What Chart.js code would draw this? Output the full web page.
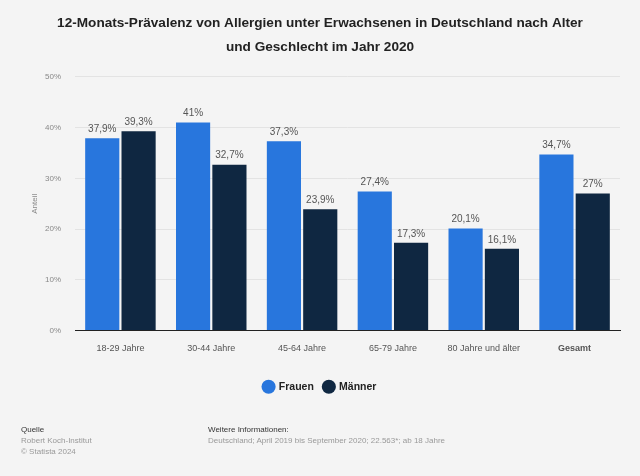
<!DOCTYPE html>
<html><head><meta charset="utf-8">
<script src="https://cdn.jsdelivr.net/npm/chart.js@4"></script>
<style>
html,body{margin:0;padding:0;background:#f4f4f4;width:640px;height:476px;overflow:hidden;font-family:"Liberation Sans",Arial,sans-serif;}
#wrap{position:absolute;left:0;top:0;width:640px;height:476px;}
.ft{position:absolute;font-size:8px;line-height:11px;color:#999;}
.ft b{font-weight:normal;color:#333;}
</style></head><body>
<div id="wrap"><canvas id="c" width="640" height="476"></canvas></div>
<div class="ft" style="left:21px;top:424px;"><b>Quelle</b><br>Robert Koch-Institut<br>© Statista 2024</div>
<div class="ft" style="left:208px;top:424px;"><b>Weitere Informationen:</b><br>Deutschland; April 2019 bis September 2020; 22.563*; ab 18 Jahre</div>
<script>
const categories = ["18-29 Jahre","30-44 Jahre","45-64 Jahre","65-79 Jahre","80 Jahre und älter","Gesamt"];
const frauen = [37.9, 41, 37.3, 27.4, 20.1, 34.7];
const maenner = [39.3, 32.7, 23.9, 17.3, 16.1, 27];
const yTicks = [0,10,20,30,40,50];
const seriesNames = ["Frauen","Männer"];

const fmt = v => String(v).replace('.', ',') + '%';

const valueLabels = {
  id:'valueLabels',
  afterDatasetsDraw(chart){
    const ctx = chart.ctx;
    ctx.save();
    ctx.font = '10px "Liberation Sans", Arial, sans-serif';
    ctx.fillStyle = '#555';
    ctx.textAlign = 'center';
    ctx.textBaseline = 'bottom';
    chart.data.datasets.forEach((ds,i)=>{
      const meta = chart.getDatasetMeta(i);
      meta.data.forEach((bar,j)=>{
        ctx.fillText(fmt(ds.data[j]), bar.x, bar.y - 4);
      });
    });
    ctx.restore();
  }
};

new Chart(document.getElementById('c'), {
  type:'bar',
  data:{
    labels:categories,
    datasets:[
      {label:seriesNames[0], data:frauen, backgroundColor:'#2876dd', borderWidth:0},
      {label:seriesNames[1], data:maenner, backgroundColor:'#0f2741', borderWidth:0}
    ]
  },
  options:{
    responsive:false,
    animation:false,
    devicePixelRatio:1,
    layout:{padding:{left:20,right:20,top:11,bottom:74}},
    datasets:{bar:{categoryPercentage:0.8, barPercentage:0.94}},
    plugins:{
      title:{display:true,
        text:["12-Monats-Prävalenz von Allergien unter Erwachsenen in Deutschland nach Alter","und Geschlecht im Jahr 2020"],
        font:{family:'"Liberation Sans", Arial, sans-serif', size:13.6, weight:'bold', lineHeight:1.8},
        color:'#222', padding:{top:0,bottom:17}},
      legend:{display:true, position:'bottom',
        labels:{usePointStyle:true, pointStyle:'circle', boxWidth:10, boxHeight:10, padding:10,
          font:{family:'"Liberation Sans", Arial, sans-serif', size:10.5, weight:'bold'}, color:'#222'}},
      tooltip:{enabled:false}
    },
    scales:{
      x:{
        grid:{display:false},
        border:{display:true,color:'#222',width:1},
        ticks:{color:'#555', padding:5,
          font:(c)=>({family:'"Liberation Sans", Arial, sans-serif', size:9, weight: c.index===5?'bold':'normal'})},
        afterFit(s){ s.height = 41; }
      },
      y:{
        min:0,max:50,
        afterBuildTicks(s){ s.ticks = yTicks.map(v=>({value:v})); },
        grid:{color:'#e3e3e3', drawTicks:false},
        border:{display:false},
        ticks:{color:'#888', padding:14, font:{family:'"Liberation Sans", Arial, sans-serif', size:8},
          callback:v=>v+'%'},
        title:{display:true,text:'Anteil',color:'#888',font:{family:'"Liberation Sans", Arial, sans-serif',size:8},padding:{top:10,bottom:6}},
        afterFit(s){ s.width = 55; }
      }
    }
  },
  plugins:[valueLabels]
});
</script>
</body></html>
